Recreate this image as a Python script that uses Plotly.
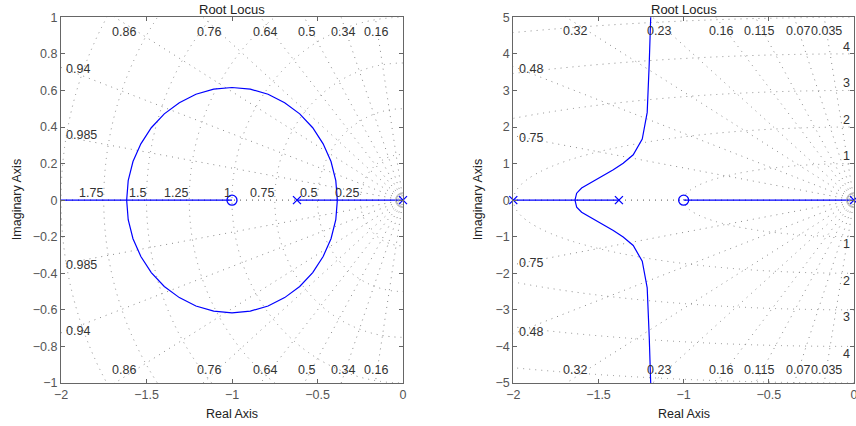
import math
import plotly.graph_objects as go

# ---------------- data ----------------
# Left system: poles / zero
left_poles = [0.0, -0.62]
left_zeros = [-1.0]
# upper half of the complex locus (circle)
left_circle_re = [-0.384, -0.393, -0.421, -0.467, -0.528, -0.604, -0.692, -0.789, -0.893, -1.0,
                  -1.107, -1.211, -1.308, -1.396, -1.472, -1.533, -1.579, -1.607, -1.616]
left_circle_im = [0.0, 0.107, 0.211, 0.308, 0.396, 0.472, 0.533, 0.579, 0.607, 0.616,
                  0.607, 0.579, 0.533, 0.472, 0.396, 0.308, 0.211, 0.107, 0.0]
left_zeta = [0.16, 0.34, 0.5, 0.64, 0.76, 0.86, 0.94, 0.985, 1.0]
left_wn = [0.25, 0.5, 0.75, 1.0, 1.25, 1.5, 1.75, 2.0, 2.25]
left_wn_labels = ["0.25", "0.5", "0.75", "1", "1.25", "1.5", "1.75"]
left_zeta_top_labels = ["0.86", "0.76", "0.64", "0.5", "0.34", "0.16"]
left_zeta_side_labels = ["0.94", "0.985"]

# Right system: poles / zero
right_poles = [0.0, -1.38, -2.0]
right_zeros = [-1.0]
# upper complex branch
right_branch_re = [-1.638, -1.628, -1.599, -1.550, -1.492, -1.413, -1.355, -1.296, -1.243,
                   -1.228, -1.214, -1.202, -1.192, -1.190]
right_branch_im = [0.0, 0.19, 0.33, 0.46, 0.62, 0.83, 1.01, 1.24, 1.67,
                   2.01, 2.40, 3.74, 5.0, 5.5]
right_zeta = [0.035, 0.07, 0.115, 0.16, 0.23, 0.32, 0.48, 0.75, 1.0]
right_wn = [1, 2, 3, 4, 5, 6]
right_wn_labels = ["1", "2", "3", "4"]
right_zeta_top_labels = ["0.32", "0.23", "0.16", "0.115", "0.07", "0.035"]
right_zeta_side_labels = ["0.48", "0.75"]

x_ticks = [-2, -1.5, -1, -0.5, 0]

# ---------------- styling / placement ----------------
W, H = 856, 426
FONT = "Liberation Sans"
BLUE = "#0000ff"
GRID = "#8a8a8a"
LBL = "#333333"
TICK = "#555555"
DASH = "1px,5px"

def px_x(p):
    return p / W

def px_y(p):
    return (H - p) / H

L_DOM = [px_x(61), px_x(403)]
R_DOM = [px_x(513.3), px_x(854)]
Y_DOM = [px_y(383), px_y(17.3)]

# label placements (x centres / y centres, in data units)
left_top_x = [-1.634, -1.133, -0.808, -0.563, -0.352, -0.159]
left_top_y = 0.922
left_bot_y = -0.93
left_side_y = [0.716, 0.354]
right_top_x = [-1.635, -1.1425, -0.781, -0.556, -0.330, -0.162]
right_top_y = 4.62
right_bot_y = -4.64
right_side_y = [3.6, 1.71]

fig = go.Figure()

def add_system(xa, ya, poles, zeros, br_re, br_im, real_segments):
    # complex branches (upper & mirrored lower)
    fig.add_trace(go.Scatter(x=br_re, y=br_im, mode="lines", line=dict(color=BLUE, width=1.2),
                             xaxis=xa, yaxis=ya, showlegend=False, hoverinfo="skip"))
    fig.add_trace(go.Scatter(x=br_re, y=[-v for v in br_im], mode="lines",
                             line=dict(color=BLUE, width=1.2),
                             xaxis=xa, yaxis=ya, showlegend=False, hoverinfo="skip"))
    for a, b in real_segments:
        fig.add_trace(go.Scatter(x=[a, b], y=[0, 0], mode="lines", line=dict(color=BLUE, width=1.2),
                                 xaxis=xa, yaxis=ya, showlegend=False, hoverinfo="skip"))
    # small arcs at the origin
    fig.add_trace(go.Scatter(x=[poles[0], poles[0]], y=[0, 0], mode="markers",
                             marker=dict(symbol="circle-open", size=[15, 9], color="#a0a0a0",
                                         line=dict(width=1)),
                             xaxis=xa, yaxis=ya, showlegend=False, hoverinfo="skip", cliponaxis=True))
    fig.add_trace(go.Scatter(x=poles, y=[0] * len(poles), mode="markers",
                             marker=dict(symbol="x-thin-open", size=8, color=BLUE,
                                         line=dict(width=1.3, color=BLUE)),
                             xaxis=xa, yaxis=ya, showlegend=False, hoverinfo="skip", cliponaxis=False))
    fig.add_trace(go.Scatter(x=zeros, y=[0] * len(zeros), mode="markers",
                             marker=dict(symbol="circle-open", size=10, color=BLUE,
                                         line=dict(width=1.3, color=BLUE)),
                             xaxis=xa, yaxis=ya, showlegend=False, hoverinfo="skip", cliponaxis=False))

add_system("x", "y", left_poles, left_zeros, left_circle_re, left_circle_im,
           [(-2.0, left_zeros[0]), (left_poles[1], left_poles[0])])
add_system("x2", "y2", right_poles, right_zeros, right_branch_re, right_branch_im,
           [(right_poles[2], right_poles[1]), (right_zeros[0], right_poles[0])])

shapes = []
def grid(xref, yref, zetas, wns, R):
    for r in wns:
        shapes.append(dict(type="circle", xref=xref, yref=yref, x0=-r, x1=r, y0=-r, y1=r,
                           line=dict(color=GRID, width=1, dash=DASH), layer="below"))
    for z in zetas:
        s = math.sqrt(max(0.0, 1 - z * z))
        for sg in (1, -1):
            shapes.append(dict(type="line", xref=xref, yref=yref, x0=0, y0=0,
                               x1=-R * z, y1=sg * R * s,
                               line=dict(color=GRID, width=1, dash=DASH), layer="below"))

grid("x", "y", left_zeta, left_wn, 10)
grid("x2", "y2", right_zeta, right_wn, 40)

ann = []
def txt(xref, yref, x, y, t, xanchor="center", yanchor="middle", color=LBL, size=12.5, angle=0):
    ann.append(dict(xref=xref, yref=yref, x=x, y=y, text=t, showarrow=False, xanchor=xanchor,
                    yanchor=yanchor, font=dict(family=FONT, size=size, color=color),
                    textangle=angle, borderpad=0))

# left grid labels
for t, x in zip(left_zeta_top_labels, left_top_x):
    txt("x", "y", x, left_top_y, t)
    txt("x", "y", x, left_bot_y, t)
for t, y in zip(left_zeta_side_labels, left_side_y):
    txt("x", "y", -1.975, y, t, xanchor="left")
    txt("x", "y", -1.975, -y, t, xanchor="left")
for t, w in zip(left_wn_labels, left_wn):
    txt("x", "y", -w, 0.037, t, xanchor="right")

# right grid labels
for t, x in zip(right_zeta_top_labels, right_top_x):
    txt("x2", "y2", x, right_top_y, t)
    txt("x2", "y2", x, right_bot_y, t)
for t, y in zip(right_zeta_side_labels, right_side_y):
    txt("x2", "y2", -1.975, y, t, xanchor="left")
    txt("x2", "y2", -1.975, -y, t, xanchor="left")
for t, w in zip(right_wn_labels, right_wn):
    txt("x2", "y2", -0.045, w + 0.2, t)
    txt("x2", "y2", -0.045, -(w + 0.2), t)

# titles and axis titles
for dom in (L_DOM, R_DOM):
    cx = (dom[0] + dom[1]) / 2
    txt("paper", "paper", cx, px_y(9.5), "Root Locus", color="#222222", size=13)
    txt("paper", "paper", cx, px_y(414), "Real Axis", color="#222222", size=12.5)
txt("paper", "paper", px_x(17), (Y_DOM[0] + Y_DOM[1]) / 2, "Imaginary Axis", color="#222222", angle=-90)
txt("paper", "paper", px_x(478), (Y_DOM[0] + Y_DOM[1]) / 2, "Imaginary Axis", color="#222222", angle=-90)

axis_common = dict(showgrid=False, zeroline=False, showline=True, linecolor="#666666", linewidth=1,
                   mirror="allticks", ticks="inside", ticklen=4, tickcolor="#666666",
                   automargin=False, ticklabeloverflow="allow",
                   tickfont=dict(family=FONT, size=12.5, color=TICK), fixedrange=True)

fig.update_layout(
    width=W, height=H, autosize=False,
    margin=dict(l=0, r=0, t=0, b=0, autoexpand=False),
    paper_bgcolor="white", plot_bgcolor="white",
    showlegend=False,
    xaxis=dict(domain=L_DOM, range=[-2, 0], tickvals=x_ticks, anchor="y", **axis_common),
    yaxis=dict(domain=Y_DOM, range=[-1, 1], dtick=0.2, tick0=0, anchor="x", **axis_common),
    xaxis2=dict(domain=R_DOM, range=[-2, 0], tickvals=x_ticks, anchor="y2", **axis_common),
    yaxis2=dict(domain=Y_DOM, range=[-5, 5], dtick=1, tick0=0, anchor="x2", **axis_common),
    shapes=shapes, annotations=ann,
)

fig.write_html("out.html", config={"displayModeBar": False},
               post_script="document.body.style.margin='0';document.body.style.overflow='hidden';")
